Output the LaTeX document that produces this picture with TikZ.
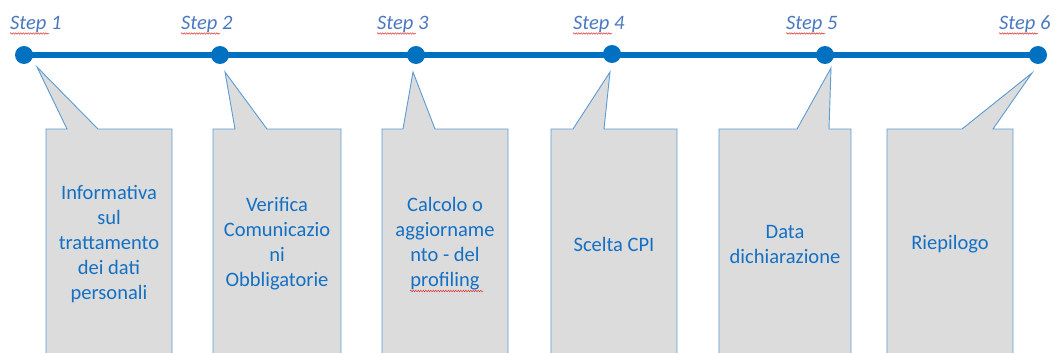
\documentclass[tikz,border=0pt]{standalone}
\usepackage{fontspec}
\setmainfont{Carlito}
\usetikzlibrary{decorations.pathmorphing}
\definecolor{tl}{HTML}{0070C0}
\definecolor{stepc}{HTML}{4A78C0}
\definecolor{boxtxt}{HTML}{1470C4}
\definecolor{boxline}{HTML}{5B9BD5}
\definecolor{boxfill}{HTML}{DCDCDC}
\definecolor{spell}{HTML}{E03030}
\newcommand\mycallout[5]{%
  \filldraw[calloutbox] (#1,365) -- (#1,129) -- (#3,129) -- (#5) -- (#4,129) -- (#2,129) -- (#2,365) -- cycle;}
\begin{document}
\begin{tikzpicture}[x=1pt,y=-1pt,
  calloutbox/.style={fill=boxfill,draw=boxline,line width=0.9pt,line join=miter},
  boxtext/.style={align=center,text=boxtxt,inner sep=0pt,font=\fontsize{20.5}{25}\selectfont},
  steplbl/.style={anchor=base west,inner sep=0pt,text=stepc,font=\itshape\fontsize{20.5}{24}\selectfont},
  dot/.style={circle,fill=tl,minimum size=18pt,inner sep=0pt},
  timeline/.style={draw=tl,line width=5.5pt},
  squig/.style={draw=spell,line width=0.5pt,decorate,decoration={snake,segment length=2.5pt,amplitude=0.7pt}}]
\useasboundingbox (0,0) rectangle (1055,353);
\clip (0,0) rectangle (1055,353);

% timeline points
\coordinate (p1) at (24,55);
\coordinate (p2) at (220,55);
\coordinate (p3) at (416,55);
\coordinate (p4) at (612,54);
\coordinate (p5) at (825,55);
\coordinate (p6) at (1038,55);

% callout tips
\coordinate (t1) at (37,67);
\coordinate (t2) at (225,72);
\coordinate (t3) at (413,72);
\coordinate (t4) at (610,72);
\coordinate (t5) at (831,68);
\coordinate (t6) at (1032,73);

% callout boxes
\mycallout{46}{172}{67}{98}{t1}
\mycallout{213}{341}{235}{267}{t2}
\mycallout{382}{508}{403}{435}{t3}
\mycallout{551}{677}{573}{604}{t4}
\mycallout{719}{851}{797}{829}{t5}
\mycallout{887}{1013}{962}{993}{t6}

% timeline
\draw[timeline] (p1) -- (p6);
\node[dot] (d1) at (p1) {};
\node[dot] (d2) at (p2) {};
\node[dot] (d3) at (p3) {};
\node[dot] (d4) at (p4) {};
\node[dot] (d5) at (p5) {};
\node[dot] (d6) at (p6) {};

% step labels
\node[steplbl] (s1) at (10,30) {Step 1};
\node[steplbl] (s2) at (181,30) {Step 2};
\node[steplbl] (s3) at (377,30) {Step 3};
\node[steplbl] (s4) at (573,30) {Step 4};
\node[steplbl] (s5) at (786,30) {Step 5};
\node[steplbl] (s6) at (999,30) {Step 6};
\foreach \s in {s1,s2,s3,s4,s5,s6}
  \path[squig] ([yshift=-3.5pt]\s.base west) -- ++(39,0);

% box texts
\node[boxtext] (b1) at (109,244) {Informativa\\sul\\trattamento\\dei dati\\personali};
\node[boxtext] (b2) at (277,244) {Verifica\\Comunicazio\\ni\\Obbligatorie};
\node[boxtext] (b3) at (445,244) {Calcolo o\\aggiorname\\nto - del\\profiling};
\node[boxtext] (b4) at (614,244) {Scelta CPI};
\node[boxtext] (b5) at (785,244) {Data\\dichiarazione};
\node[boxtext] (b6) at (950,244) {Riepilogo};
\path[squig] (410,291) -- (483,291);
\end{tikzpicture}
\end{document}
